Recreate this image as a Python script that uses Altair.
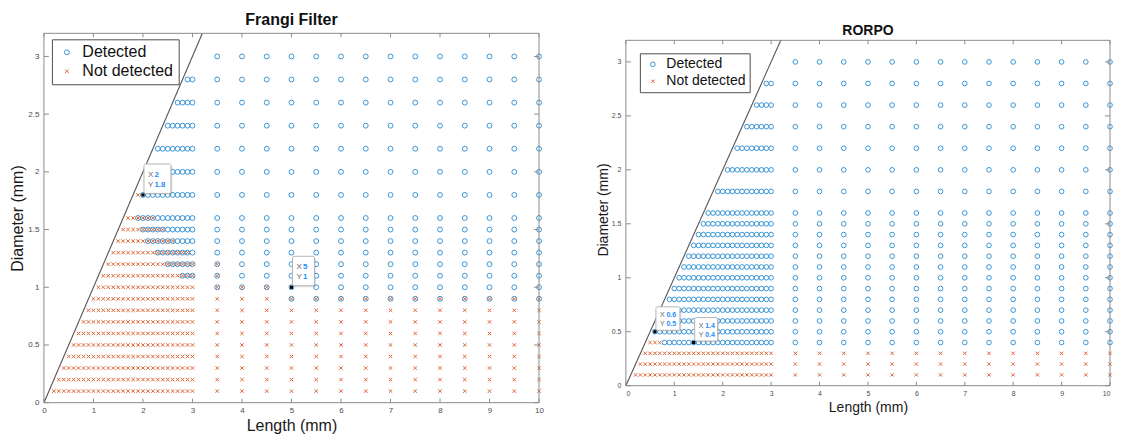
import altair as alt
import pandas as pd

FONT = "Liberation Sans"

# ---------------- data ----------------
diameters = [0.1, 0.2, 0.3, 0.4, 0.5, 0.6, 0.7, 0.8, 0.9, 1.0, 1.1, 1.2, 1.3, 1.4, 1.5, 1.6,
             1.8, 2.0, 2.2, 2.4, 2.6, 2.8, 3.0]
lengths_fine = [0.1, 0.2, 0.3, 0.4, 0.5, 0.6, 0.7, 0.8, 0.9, 1.0, 1.1, 1.2, 1.3, 1.4, 1.5,
                1.6, 1.7, 1.8, 1.9, 2.0, 2.1, 2.2, 2.3, 2.4, 2.5, 2.6, 2.7, 2.8, 2.9, 3.0]
lengths_coarse = [3.5, 4.0, 4.5, 5.0, 5.5, 6.0, 6.5, 7.0, 7.5, 8.0, 8.5, 9.0, 9.5, 10.0]

# segments per diameter row: (code, last length of the run); N = not detected,
# D = detected, B = both markers drawn at that point
frangi_fine = {
    0.1: [("N", 3.0)], 0.2: [("N", 3.0)], 0.3: [("N", 3.0)], 0.4: [("N", 3.0)],
    0.5: [("N", 3.0)], 0.6: [("N", 3.0)], 0.7: [("N", 3.0)], 0.8: [("N", 3.0)],
    0.9: [("N", 3.0)], 1.0: [("N", 3.0)],
    1.1: [("N", 2.7), ("B", 3.0)],
    1.2: [("N", 2.4), ("B", 3.0)],
    1.3: [("N", 2.2), ("B", 2.9), ("D", 3.0)],
    1.4: [("N", 2.0), ("B", 2.6), ("D", 3.0)],
    1.5: [("N", 1.9), ("B", 2.4), ("D", 3.0)],
    1.6: [("N", 1.8), ("B", 2.2), ("D", 3.0)],
    1.8: [("N", 1.9), ("D", 3.0)],
    2.0: [("D", 3.0)], 2.2: [("D", 3.0)], 2.4: [("D", 3.0)], 2.6: [("D", 3.0)],
    2.8: [("D", 3.0)], 3.0: [("D", 3.0)],
}
frangi_coarse = {
    0.1: [("N", 10.0)], 0.2: [("N", 10.0)], 0.3: [("N", 10.0)], 0.4: [("N", 10.0)],
    0.5: [("N", 10.0)], 0.6: [("N", 10.0)], 0.7: [("N", 10.0)], 0.8: [("N", 10.0)],
    0.9: [("N", 4.5), ("B", 10.0)],
    1.0: [("B", 5.0), ("D", 10.0)],
    1.1: [("B", 3.5), ("D", 10.0)],
    1.2: [("B", 3.5), ("D", 10.0)],
    1.3: [("D", 10.0)], 1.4: [("D", 10.0)], 1.5: [("D", 10.0)], 1.6: [("D", 10.0)],
    1.8: [("D", 10.0)], 2.0: [("D", 10.0)], 2.2: [("D", 10.0)], 2.4: [("D", 10.0)],
    2.6: [("D", 10.0)], 2.8: [("D", 10.0)], 3.0: [("D", 10.0)],
}
rorpo_fine = {
    0.1: [("N", 3.0)], 0.2: [("N", 3.0)], 0.3: [("N", 3.0)],
    0.4: [("N", 0.7), ("D", 3.0)],
    0.5: [("D", 3.0)], 0.6: [("D", 3.0)], 0.7: [("D", 3.0)], 0.8: [("D", 3.0)],
    0.9: [("D", 3.0)], 1.0: [("D", 3.0)], 1.1: [("D", 3.0)], 1.2: [("D", 3.0)],
    1.3: [("D", 3.0)], 1.4: [("D", 3.0)], 1.5: [("D", 3.0)], 1.6: [("D", 3.0)],
    1.8: [("D", 3.0)], 2.0: [("D", 3.0)], 2.2: [("D", 3.0)], 2.4: [("D", 3.0)],
    2.6: [("D", 3.0)], 2.8: [("D", 3.0)], 3.0: [("D", 3.0)],
}
rorpo_coarse = {
    0.1: [("N", 10.0)], 0.2: [("N", 10.0)], 0.3: [("N", 10.0)],
    0.4: [("D", 10.0)], 0.5: [("D", 10.0)], 0.6: [("D", 10.0)], 0.7: [("D", 10.0)],
    0.8: [("D", 10.0)], 0.9: [("D", 10.0)], 1.0: [("D", 10.0)], 1.1: [("D", 10.0)],
    1.2: [("D", 10.0)], 1.3: [("D", 10.0)], 1.4: [("D", 10.0)], 1.5: [("D", 10.0)],
    1.6: [("D", 10.0)], 1.8: [("D", 10.0)], 2.0: [("D", 10.0)], 2.2: [("D", 10.0)],
    2.4: [("D", 10.0)], 2.6: [("D", 10.0)], 2.8: [("D", 10.0)], 3.0: [("D", 10.0)],
}

# data tips (Length, Diameter)
frangi_tip_len = [2.0, 5.0]
frangi_tip_diam = [1.8, 1.0]
rorpo_tip_len = [0.6, 1.4]
rorpo_tip_diam = [0.5, 0.4]

# boundary line Diameter = Length
diag_len = [0.0, 3.2]
diag_diam = [0.0, 3.2]

# axis limits (box) and ticks
box_len = [0.0, 10.0]
box_diam = [0.0, 3.2]
x_ticks = [0, 1, 2, 3, 4, 5, 6, 7, 8, 9, 10]
y_ticks = [0, 0.5, 1, 1.5, 2, 2.5, 3]

statuses = ["Detected", "Not detected"]
colors = ["#3A95D6", "#DF6635"]
X_PATH = "M-1,-1L1,1M-1,1L1,-1"


def code_at(segs, length):
    for code, last in segs:
        if length <= last + 1e-9:
            return code
    return segs[-1][0]


def build_points(fine, coarse):
    det, nod = [], []
    for d in diameters:
        cand = [(l, fine[d]) for l in lengths_fine if l > d + 1e-9]
        cand += [(l, coarse[d]) for l in lengths_coarse]
        for l, segs in cand:
            c = code_at(segs, l)
            if c in ("D", "B"):
                det.append({"Length": l, "Diameter": d, "Status": "Detected"})
            if c in ("N", "B"):
                nod.append({"Length": l, "Diameter": d, "Status": "Not detected"})
    df = pd.DataFrame(det + nod)
    df["order"] = range(len(df))
    return df


def panel(df, tip_len, tip_diam, tip_w, tip_h, title, title_fs, title_off,
          W, H, y_top, tick_fs, axis_title_fs, x_tpad, y_tpad, leg, sizes, tip_fs, tip_lines,
          flush):
    xs = alt.Scale(domain=[0, 10], nice=False, zero=False)
    ys = alt.Scale(domain=[0, y_top], nice=False, zero=False)
    xax = alt.Axis(values=x_ticks, format="d", title="Length (mm)", labelFontSize=tick_fs,
                   titleFontSize=axis_title_fs, labelPadding=4, titlePadding=x_tpad,
                   labelFlush=flush)
    yax = alt.Axis(values=y_ticks, format="~g", title="Diameter (mm)", labelFontSize=tick_fs,
                   titleFontSize=axis_title_fs, labelPadding=5, titlePadding=y_tpad)

    pts = alt.Chart(df).mark_point(filled=False, strokeWidth=1, opacity=1).encode(
        x=alt.X("Length:Q", scale=xs, axis=xax),
        y=alt.Y("Diameter:Q", scale=ys, axis=yax),
        color=alt.Color("Status:N", scale=alt.Scale(domain=statuses, range=colors), legend=leg),
        shape=alt.Shape("Status:N", scale=alt.Scale(domain=statuses, range=["circle", X_PATH]), legend=leg),
        size=alt.Size("Status:N", scale=alt.Scale(domain=statuses, range=sizes), legend=leg),
        order="order:Q",
    )

    diag = alt.Chart(pd.DataFrame({"Length": diag_len, "Diameter": diag_diam})).mark_line(
        color="#555555", strokeWidth=1.1, clip=True).encode(
        x=alt.X("Length:Q", scale=xs), y=alt.Y("Diameter:Q", scale=ys))

    fcol = "#8c8c8c"
    vbox = alt.Chart(pd.DataFrame({"Length": box_len})).mark_rule(color=fcol, strokeWidth=1).encode(
        x=alt.X("Length:Q", scale=xs), y=alt.datum(box_diam[0]), y2=alt.datum(box_diam[1]))
    hbox = alt.Chart(pd.DataFrame({"Diameter": box_diam})).mark_rule(color=fcol, strokeWidth=1).encode(
        y=alt.Y("Diameter:Q", scale=ys), x=alt.datum(box_len[0]), x2=alt.datum(box_len[1]))

    xt = pd.DataFrame({"Length": x_ticks})
    yt = pd.DataFrame({"Diameter": y_ticks})
    tb = alt.Chart(xt).mark_rule(color=fcol, strokeWidth=1, y2Offset=-4).encode(
        x=alt.X("Length:Q", scale=xs), y=alt.datum(box_diam[0]), y2=alt.datum(box_diam[0]))
    tt = alt.Chart(xt).mark_rule(color=fcol, strokeWidth=1, y2Offset=4).encode(
        x=alt.X("Length:Q", scale=xs), y=alt.datum(box_diam[1]), y2=alt.datum(box_diam[1]))
    tl = alt.Chart(yt).mark_rule(color=fcol, strokeWidth=1, x2Offset=5).encode(
        y=alt.Y("Diameter:Q", scale=ys), x=alt.datum(box_len[0]), x2=alt.datum(box_len[0]))
    tr = alt.Chart(yt).mark_rule(color=fcol, strokeWidth=1, x2Offset=-5).encode(
        y=alt.Y("Diameter:Q", scale=ys), x=alt.datum(box_len[1]), x2=alt.datum(box_len[1]))

    layers = [diag, pts, vbox, hbox, tb, tt, tl, tr]

    for i in range(len(tip_len)):
        tdf = pd.DataFrame({"Length": [tip_len[i]], "Diameter": [tip_diam[i]]})
        tc = alt.Chart(tdf)
        w = tip_w[i]
        enc = dict(x=alt.X("Length:Q", scale=xs), x2=alt.X2("Length"),
                   y=alt.Y("Diameter:Q", scale=ys), y2=alt.Y2("Diameter"))
        shadow = tc.mark_rect(fill="#000000", opacity=0.12, xOffset=3, x2Offset=w + 2.5,
                              yOffset=0, y2Offset=-tip_h + 2).encode(**enc)
        box = tc.mark_rect(fill="white", stroke="#b5b5b5", strokeWidth=1, cornerRadius=1.5,
                           xOffset=1, x2Offset=w + 1, yOffset=-1.5, y2Offset=-tip_h).encode(**enc)
        pe = dict(x=alt.X("Length:Q", scale=xs), y=alt.Y("Diameter:Q", scale=ys))
        lx = tc.mark_text(text="X", align="left", baseline="middle", dx=5, dy=tip_lines[0],
                          fontSize=tip_fs, color="#666666", font=FONT).encode(**pe)
        ly = tc.mark_text(text="Y", align="left", baseline="middle", dx=5, dy=tip_lines[1],
                          fontSize=tip_fs, color="#666666", font=FONT).encode(**pe)
        vx = tc.mark_text(align="left", baseline="middle", dx=11.5, dy=tip_lines[0],
                          fontSize=tip_fs, fontWeight="bold", color="#1f8fff", font=FONT).encode(
            text=alt.Text("Length:Q", format="~g"), **pe)
        vy = tc.mark_text(align="left", baseline="middle", dx=11.5, dy=tip_lines[1],
                          fontSize=tip_fs, fontWeight="bold", color="#1f8fff", font=FONT).encode(
            text=alt.Text("Diameter:Q", format="~g"), **pe)
        dot = tc.mark_square(size=10, color="black", opacity=1).encode(**pe)
        layers += [shadow, box, lx, ly, vx, vy, dot]

    return alt.layer(*layers).properties(
        width=W, height=H,
        title=alt.TitleParams(text=title, fontSize=title_fs, fontWeight="bold", font=FONT,
                              anchor="middle", frame="group", offset=title_off, color="#111111"),
    )


frangi_df = build_points(frangi_fine, frangi_coarse)
rorpo_df = build_points(rorpo_fine, rorpo_coarse)

leg_left = alt.Legend(orient="none", legendX=8, legendY=6, title=None, strokeColor="#4d4d4d",
                      fillColor="white", padding=5, labelFontSize=16, labelFont=FONT,
                      labelColor="#111111", rowPadding=3, symbolOffset=2, labelOffset=7.5,
                      symbolStrokeWidth=1)
leg_right = alt.Legend(orient="none", legendX=14, legendY=20, title=None, strokeColor="#4d4d4d",
                       fillColor="white", padding=4, labelFontSize=14, labelFont=FONT,
                       labelColor="#111111", rowPadding=3, symbolOffset=2, labelOffset=6.5,
                       symbolStrokeWidth=1)

# right panel: its box starts 7 px below the shared top, so its y range reaches a bit above 3.2
R_H = 353
R_TOP = 3.2 * R_H / 346

left = panel(frangi_df, frangi_tip_len, frangi_tip_diam, [27, 22], 31, "Frangi Filter", 16, 5,
             496, 370, 3.2, 8, 16, 3, 2, leg_left, [24, 12], 8, [-20, -10], False)
right = panel(rorpo_df, rorpo_tip_len, rorpo_tip_diam, [24, 23], 25, "RORPO", 14, -5,
              485, R_H, R_TOP, 7, 14, 4, 1, leg_right, [22, 11], 7, [-17, -8], True)

chart = alt.hconcat(left, right, spacing=52).resolve_scale(
    color="independent", shape="independent", size="independent"
).resolve_legend(
    color="independent", shape="independent", size="independent"
).properties(
    padding={"left": 1, "top": 3, "right": 0, "bottom": 0}, background="white"
).configure(font=FONT).configure_view(strokeWidth=0).configure_axis(
    grid=False, domain=False, ticks=False, tickSize=0, labelColor="#4d4d4d", titleColor="#1a1a1a",
    titleFontWeight="normal", labelFont=FONT, titleFont=FONT
)

chart.save("out.html", embed_options={"renderer": "svg", "actions": False})
